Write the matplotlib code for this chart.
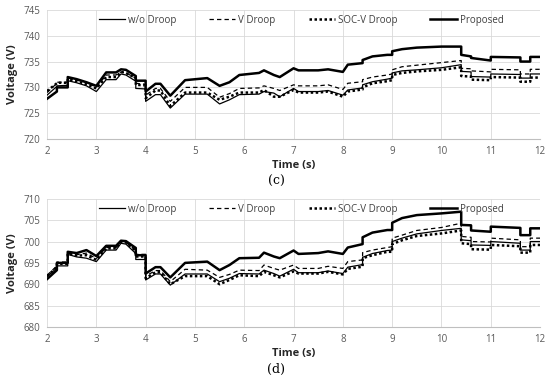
import matplotlib
matplotlib.use('Agg')
import matplotlib.pyplot as plt

plt.rcParams['font.family'] = ['Open Sans', 'DejaVu Sans']

# shared time base (repeated times are the vertical steps)
time_s = [2.0, 2.2, 2.2, 2.42, 2.42, 2.6, 2.8, 3.0, 3.2, 3.4, 3.5, 3.6, 3.8, 3.8,
          4.0, 4.0, 4.2, 4.3, 4.5, 4.8, 5.25, 5.5, 5.7, 5.9, 6.3, 6.4, 6.6, 6.72,
          7.0, 7.1, 7.5, 7.7, 8.0, 8.1, 8.4, 8.4, 8.6, 8.9, 9.0, 9.0, 9.2, 9.5,
          10.0, 10.4, 10.4, 10.6, 10.6, 11.0, 11.0, 11.6, 11.6, 11.8, 11.8, 12.0]

# panel (c)
c_wo = [728.5, 730.2, 730.3, 730.4, 731.3, 730.9, 730.3, 729.2, 731.5, 731.5, 732.6, 732.4, 731.2, 729.8,
        729.7, 727.3, 728.6, 728.6, 726.0, 728.7, 728.7, 726.8, 727.6, 728.6, 728.7, 729.2, 728.9, 728.2,
        729.8, 729.2, 729.2, 729.4, 728.5, 729.5, 729.9, 730.5, 731.1, 731.6, 731.8, 732.8, 733.2, 733.4,
        733.8, 734.4, 733.1, 733.0, 732.1, 732.0, 732.6, 732.5, 731.8, 731.8, 732.6, 732.6]
c_v = [729.0, 730.8, 731.0, 731.0, 731.8, 731.4, 731.0, 730.0, 732.4, 732.4, 733.0, 732.8, 731.8, 730.8,
       730.6, 728.5, 729.8, 729.8, 727.3, 730.0, 730.0, 728.1, 728.8, 729.8, 729.9, 730.3, 729.8, 729.4,
       730.5, 730.3, 730.3, 730.5, 729.6, 730.8, 731.1, 731.5, 732.0, 732.4, 732.6, 733.4, 734.0, 734.3,
       734.8, 735.2, 733.7, 733.6, 733.2, 733.0, 733.5, 733.4, 732.6, 732.6, 733.5, 733.5]
c_socv = [729.3, 730.8, 730.9, 730.9, 731.6, 731.2, 730.6, 729.8, 732.0, 732.0, 733.0, 732.8, 731.8, 730.5,
          730.4, 727.9, 729.4, 729.4, 726.4, 729.0, 729.0, 727.6, 728.2, 729.0, 729.0, 729.5, 728.2, 728.2,
          729.5, 729.0, 729.0, 729.2, 728.2, 729.2, 729.6, 730.0, 730.8, 731.2, 731.4, 732.4, 732.8, 733.1,
          733.4, 733.9, 732.2, 732.1, 731.5, 731.4, 732.0, 731.9, 731.1, 731.1, 731.9, 731.9]
c_prop = [727.8, 729.2, 730.0, 730.0, 732.0, 731.6, 731.0, 730.3, 732.9, 732.9, 733.5, 733.4, 732.2, 731.3,
          731.3, 729.2, 730.7, 730.7, 728.4, 731.4, 731.8, 730.3, 731.0, 732.4, 732.8, 733.3, 732.4, 732.0,
          733.7, 733.3, 733.3, 733.5, 733.0, 734.4, 734.7, 735.3, 736.0, 736.3, 736.3, 737.0, 737.4, 737.7,
          737.9, 737.9, 736.3, 736.0, 735.7, 735.2, 735.9, 735.8, 735.0, 735.0, 735.9, 735.9]

# panel (d)
d_wo = [691.8, 693.8, 694.3, 694.3, 697.0, 696.4, 696.1, 695.3, 698.0, 698.0, 699.6, 699.4, 697.2, 695.8,
        695.8, 691.0, 692.4, 692.4, 689.8, 692.4, 692.4, 690.6, 691.4, 692.5, 692.4, 693.3, 692.5, 691.9,
        693.5, 692.7, 692.7, 693.1, 692.5, 694.0, 694.6, 696.3, 697.2, 697.9, 698.0, 700.0, 700.8, 701.8,
        702.6, 703.1, 700.4, 700.2, 699.2, 699.1, 700.0, 699.6, 698.0, 698.0, 700.0, 700.0]
d_v = [692.1, 694.3, 695.2, 695.2, 697.3, 696.9, 697.3, 696.0, 698.6, 698.6, 700.0, 699.8, 698.0, 697.0,
       697.0, 691.9, 693.2, 693.2, 690.6, 693.5, 693.3, 691.6, 692.3, 693.3, 693.2, 694.5, 693.7, 693.3,
       694.5, 693.7, 693.7, 694.2, 693.7, 695.3, 695.7, 697.4, 698.0, 698.6, 698.8, 700.8, 701.5, 702.6,
       703.3, 704.3, 701.2, 701.0, 700.0, 699.9, 700.8, 700.4, 698.8, 698.8, 700.8, 700.8]
d_socv = [691.9, 694.0, 694.8, 694.8, 697.2, 696.7, 696.8, 695.7, 698.4, 698.4, 700.0, 699.8, 697.8, 696.5,
          696.5, 691.4, 692.8, 692.8, 690.0, 691.9, 691.9, 690.0, 691.0, 692.1, 691.9, 692.9, 692.1, 691.6,
          693.0, 692.5, 692.5, 692.9, 692.3, 693.6, 694.1, 696.1, 696.8, 697.6, 697.6, 699.4, 700.3, 701.3,
          701.9, 702.6, 699.6, 699.4, 698.2, 698.1, 699.2, 698.9, 697.4, 697.4, 699.2, 699.2]
d_prop = [691.2, 693.3, 695.0, 695.0, 697.6, 697.3, 698.0, 696.6, 699.0, 699.0, 700.2, 700.1, 698.5, 696.8,
          696.8, 692.5, 694.0, 694.0, 691.6, 695.0, 695.3, 693.3, 694.5, 696.1, 696.2, 697.4, 696.5, 696.1,
          697.9, 697.1, 697.3, 697.7, 697.1, 698.6, 699.4, 701.0, 702.1, 702.7, 702.7, 704.4, 705.5, 706.2,
          706.6, 707.0, 703.9, 703.8, 702.6, 702.3, 703.5, 703.2, 701.5, 701.5, 703.1, 703.1]

x_ticks = list(range(2, 13))
c_yticks = [720, 725, 730, 735, 740, 745]
d_yticks = [680, 685, 690, 695, 700, 705, 710]

fig = plt.figure(figsize=(5.5, 3.81), dpi=100)
ax_c = fig.add_axes([0.0855, 0.635, 0.8965, 0.339])
ax_d = fig.add_axes([0.0855, 0.142, 0.8965, 0.336])

grey = '#595959'


def draw_panel(ax, wo, v, socv, prop, yticks, tag):
    ax.plot(time_s, wo, color='black', lw=0.9, label='w/o Droop')
    ax.plot(time_s, v, color='black', lw=0.9, ls=(0, (3.5, 2.5)), label='V Droop')
    ax.plot(time_s, socv, color='black', lw=1.8, ls=(0, (1, 1)), label='SOC-V Droop')
    ax.plot(time_s, prop, color='black', lw=1.8, label='Proposed')
    ax.set_xlim(2, 12)
    ax.set_ylim(yticks[0], yticks[-1])
    ax.set_xticks(x_ticks)
    ax.set_yticks(yticks)
    ax.grid(True, color='#d9d9d9', lw=0.6)
    ax.set_axisbelow(True)
    for s in ['top', 'right', 'left']:
        ax.spines[s].set_visible(False)
    ax.spines['bottom'].set_color('#bfbfbf')
    ax.tick_params(length=0, labelsize=7, labelcolor=grey, pad=5)
    ax.set_ylabel('Voltage (V)', fontsize=8, fontweight='bold', color='#262626', labelpad=4)
    ax.set_xlabel('Time (s)', fontsize=8, fontweight='bold', color='#262626', labelpad=2)
    ax.legend(loc='upper center', bbox_to_anchor=(0.515, 1.03), ncol=4, frameon=False,
              fontsize=7, handlelength=2.7, columnspacing=3.4, handletextpad=0.3,
              labelcolor='#404040')
    ax.text(0.465, -0.33, tag, transform=ax.transAxes, ha='center', va='center',
            fontsize=9, family=['DejaVu Serif'])


draw_panel(ax_c, c_wo, c_v, c_socv, c_prop, c_yticks, '(c)')
draw_panel(ax_d, d_wo, d_v, d_socv, d_prop, d_yticks, '(d)')

fig.savefig('out.png', dpi=100)
